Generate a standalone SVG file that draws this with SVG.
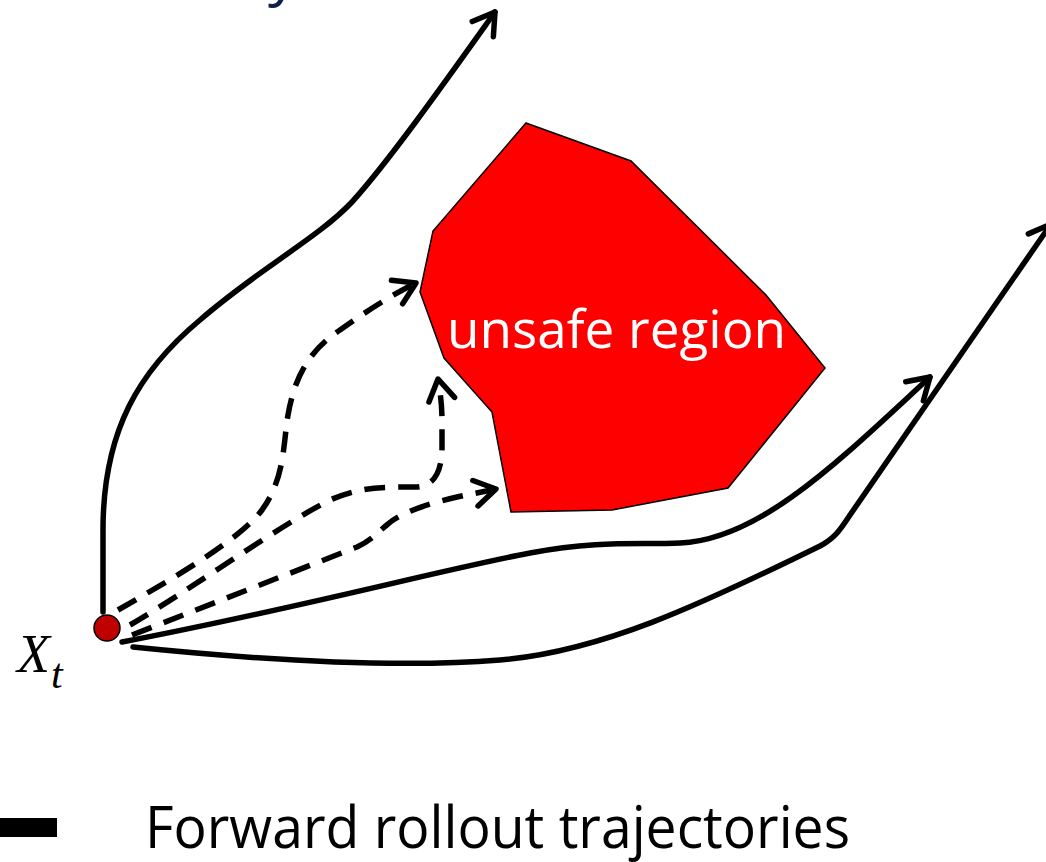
<svg xmlns="http://www.w3.org/2000/svg" width="1046" height="862" viewBox="0 0 1046 862">
<style>
.traj{fill:none;stroke:#000;stroke-width:5.5;stroke-linecap:round;stroke-linejoin:round}
.dash{stroke-dasharray:21 13;stroke-linecap:butt}
.ah{fill:none;stroke:#000;stroke-width:5.5;stroke-linecap:round;stroke-linejoin:round;stroke-dasharray:none}
</style>
<defs>
<marker id="arrow" markerUnits="userSpaceOnUse" refX="0" refY="0" markerWidth="40" markerHeight="40" orient="auto" overflow="visible">
<path class="ah" d="M-21,-13 L0,0 L-21,13"/>
</marker>
</defs>
<rect width="1046" height="862" fill="#fff"/>
<text x="268" y="-6" font-family="Open Sans, sans-serif" font-size="60" fill="#0f2147">y</text>
<g id="unsafe-region">
<polygon points="526,123 631,161 766,295 825,368 728,488 612,510 511,512 492,412 444,358 420,292 433,231" fill="#ff0000" stroke="#000" stroke-width="1.5" stroke-linejoin="miter"/>
<text x="447" y="348" font-family="Open Sans, sans-serif" font-size="53" fill="#fff">unsafe region</text>
</g>
<g id="connectors">
<path class="traj" marker-end="url(#arrow)" d="M103,612 L103,530 C103,430 140,370 200,320 C260,268 318,238 352,202 C390,160 450,75 495,12"/>
<path class="traj" marker-end="url(#arrow)" d="M122,642 C300,608 440,570 530,553 C600,540 640,545 680,543 C760,540 840,460 930,377"/>
<path class="traj" marker-end="url(#arrow)" d="M133,647 C260,660 400,668 500,660 C600,652 700,605 820,546 C835,538 840,530 850,515 L1051,224"/>
<path class="traj dash" marker-end="url(#arrow)" d="M118,610 C170,580 240,540 262,510 C285,478 283,445 288,415 C295,375 310,350 340,330 C365,312 395,293 416,283"/>
<path class="traj dash" marker-end="url(#arrow)" d="M130,625 C190,590 280,525 330,500 C360,487 380,487 415,487 C435,487 442,470 442,447 L442,420 C442,405 440,390 438,379"/>
<path class="traj dash" marker-end="url(#arrow)" d="M132,635 L357,547 C372,540 378,532 388,524 C400,513 430,503 457,497 L496,489"/>
</g>
<g id="start-state">
<circle cx="107" cy="628" r="13" fill="#c00000" stroke="#000" stroke-width="1.5"/>
<text x="17" y="672" font-family="Liberation Serif, serif" font-style="italic" font-size="54" fill="#000">X</text>
<text x="51" y="688" font-family="Liberation Serif, serif" font-style="italic" font-size="42" fill="#000">t</text>
</g>
<g id="legend">
<rect x="0" y="818" width="57" height="19" fill="#000"/>
<text x="145" y="848" font-family="Open Sans, sans-serif" font-size="58" textLength="705" lengthAdjust="spacingAndGlyphs" fill="#000">Forward rollout trajectories</text>
</g>
</svg>
